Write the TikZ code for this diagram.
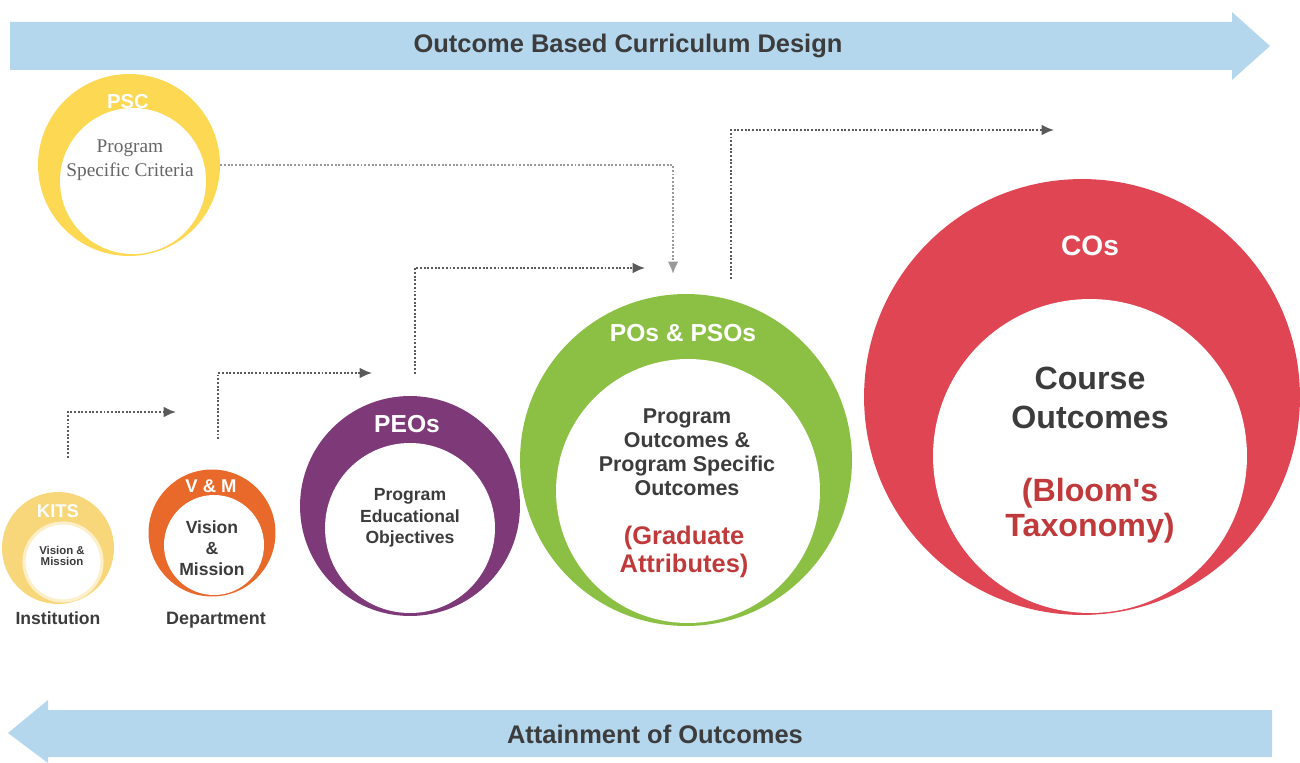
\documentclass[tikz,border=0pt]{standalone}
\usepackage{fontspec}
\setmainfont{Liberation Sans}
\newfontfamily\pscserif{Liberation Serif}
\usetikzlibrary{arrows.meta,calc}

\definecolor{bandblue}{HTML}{B4D7EE}
\definecolor{pscyellow}{HTML}{FDD853}
\definecolor{kitsyellow}{HTML}{F7D779}
\definecolor{vmorange}{HTML}{E8692A}
\definecolor{peopurple}{HTML}{7E3A78}
\definecolor{pogreen}{HTML}{8CC045}
\definecolor{cored}{HTML}{E04554}
\definecolor{inkgray}{HTML}{3C3C3C}
\definecolor{inkred}{HTML}{C0393B}
\definecolor{linkgray}{HTML}{5A5A5A}

\newcommand{\fsz}[1]{\fontsize{#1}{#1}\selectfont\bfseries}

\begin{document}
\begin{tikzpicture}[x=0.02cm, y=-0.02cm,
    ring/.style={circle, fill=#1, inner sep=0pt},
    hole/.style={circle, fill=white, inner sep=0pt},
    captext/.style={text=white, inner sep=0pt},
    bodytext/.style={text=inkgray, align=center, inner sep=0pt},
    redtext/.style={text=inkred, align=center, inner sep=0pt},
    link/.style={densely dotted, linkgray, line width=1.1pt,
        -{Latex[length=7pt,width=6pt]}}]

\useasboundingbox (0,0) rectangle (1300,763);

% Top band
\fill[bandblue] (10,22) -- (1232,22) -- (1232,12) -- (1270,46)
    -- (1232,80) -- (1232,70) -- (10,70) -- cycle;
\node[bodytext, font=\fsz{14.5}] (design) at (628,46)
    {Outcome Based Curriculum Design};

% Bottom band
\fill[bandblue] (1272,710) -- (48,710) -- (48,700) -- (8,733)
    -- (48,763) -- (48,757) -- (1272,757) -- cycle;
\node[bodytext, font=\fsz{14.5}] (attain) at (655,734)
    {Attainment of Outcomes};

% PSC
\node[ring=pscyellow, minimum size=3.64cm] (psc) at (129,165) {};
\node[hole, minimum size=2.92cm] (psc-in) at (133,181) {};
\node[captext, font=\fsz{11.5}] (psc-cap) at (128,102) {PSC};
\node[bodytext, font={\pscserif\fontsize{11}{13.5}\selectfont}, text=gray!80!black]
    (psc-txt) at (130,160) {Program\\Specific Criteria};

% KITS
\node[ring=kitsyellow, minimum size=2.24cm] (kits) at (58,548) {};
\node[hole, draw=kitsyellow!40, line width=1.8pt, minimum size=1.56cm]
    (kits-in) at (63,562) {};
\node[captext, font=\fsz{10.5}] (kits-cap) at (58,511) {KITS};
\node[bodytext, font=\fsz{6.5}] (kits-txt) at (62,556) {Vision \&\\Mission};
\node[bodytext, font=\fsz{10}] (inst) at (58,618) {Institution};

% V & M
\node[ring=vmorange, minimum size=2.54cm] (vm) at (212,533) {};
\node[hole, minimum size=2.0cm] (vm-in) at (214,545) {};
\node[captext, font=\fsz{10.5}] (vm-cap) at (211,486) {V \& M};
\node[bodytext, font={\fontsize{10}{12}\selectfont\bfseries}] (vm-txt) at (212,548)
    {Vision\\\&\\Mission};
\node[bodytext, font=\fsz{10.2}] (dept) at (216,620) {Department};

% PEOs
\node[ring=peopurple, minimum size=4.4cm] (peo) at (410,506) {};
\node[hole, minimum size=3.4cm] (peo-in) at (410,528) {};
\node[captext, font=\fsz{14}] (peo-cap) at (407,424) {PEOs};
\node[bodytext, font={\fontsize{10}{12.2}\selectfont\bfseries}] (peo-txt) at (410,518)
    {Program\\Educational\\Objectives};

% POs & PSOs
\node[ring=pogreen, minimum size=6.64cm] (po) at (686,460) {};
\node[hole, minimum size=5.28cm] (po-in) at (688,491) {};
\node[captext, font=\fsz{14}] (po-cap) at (683,333) {POs \& PSOs};
\node[bodytext, font={\fontsize{12.2}{13.6}\selectfont\bfseries}] (po-txt) at (687,452)
    {Program\\Outcomes \&\\Program Specific\\Outcomes};
\node[redtext, font={\fontsize{14.5}{15.5}\selectfont\bfseries}] (po-ga) at (684,552)
    {(Graduate\\Attributes)};

% COs
\node[ring=cored, minimum size=8.72cm] (co) at (1082,397) {};
\node[hole, minimum size=6.28cm] (co-in) at (1090,456) {};
\node[captext, font=\fsz{16}] (co-cap) at (1090,246) {COs};
\node[bodytext, font={\fontsize{18.3}{22}\selectfont\bfseries}] (co-txt) at (1090,398)
    {Course\\Outcomes};
\node[redtext, font={\fontsize{18.3}{20}\selectfont\bfseries}] (co-bt) at (1090,511)
    {(Bloom\textquotesingle s\\Taxonomy)};

% Connector ends
\coordinate (kits-up) at ($(kits.north)+(10,-34)$);
\coordinate (vm-entry) at (176,412);
\coordinate (vm-up) at ($(vm.north)+(6,-30)$);
\coordinate (peo-entry) at (372,373);
\coordinate (peo-up) at ($(peo.north)+(5,-22)$);
\coordinate (po-entry) at (645,268);
\coordinate (po-top) at (673,274);
\coordinate (po-up) at ($(po.north)+(45,-15)$);
\coordinate (co-entry) at (1054,130);

% Dotted connectors
\draw[link] (kits-up) |- (vm-entry);
\draw[link] (vm-up) |- (peo-entry);
\draw[link] (peo-up) |- (po-entry);
\draw[link, gray!80] (psc.east) -| (po-top);
\draw[link] (po-up) |- (co-entry);

\end{tikzpicture}
\end{document}
